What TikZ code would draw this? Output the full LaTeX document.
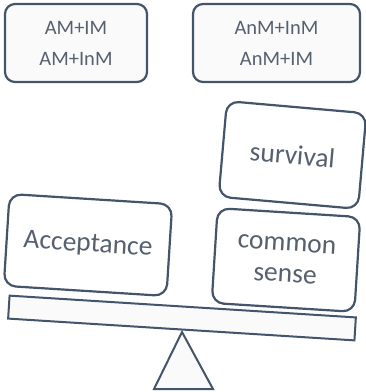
\documentclass[tikz,border=0pt]{standalone}
\usepackage{fontspec}
\setmainfont{Carlito}
\definecolor{edge}{HTML}{44546A}
\definecolor{ink}{HTML}{56606E}
\definecolor{pale}{HTML}{FAFAFB}
\begin{document}
\begin{tikzpicture}[x=1pt,y=-1pt,
  topbox/.style={draw=edge, line width=2.2pt, rounded corners=10pt, fill=pale, text=ink,
    minimum height=78pt, align=center, font=\fontsize{20.5}{31}\selectfont, inner sep=0pt},
  weight/.style={draw=edge, line width=2.2pt, rounded corners=12pt, fill=white, text=ink,
    align=center, font=\fontsize{27.5}{31}\selectfont, inner sep=0pt},
  beamstyle/.style={draw=edge, line width=2pt, fill=pale, inner sep=0pt}]
\useasboundingbox (0,0) rectangle (366,392);
\node[topbox, minimum width=142pt] (tl) at (76,43) {AM+IM\\AM+InM};
\node[topbox, minimum width=167pt] (tr) at (276.5,43) {AnM+InM\\AnM+IM};
\node[beamstyle, minimum width=347pt, minimum height=23pt, rotate=-3.6] (beam) at (182,318) {};
\draw[beamstyle] (182,332) -- (213,389) -- (154,389) -- cycle;
\node[weight, minimum width=163pt, minimum height=92pt, rotate=-3.6] (acc) at (88,245) {Acceptance};
\node[weight, minimum width=143pt, minimum height=95pt, rotate=-3.6] (cs) at (286,260) {common\\sense};
\node[weight, minimum width=140pt, minimum height=96pt, rotate=-5] (surv) at (292.5,155) {survival};
\end{tikzpicture}
\end{document}
